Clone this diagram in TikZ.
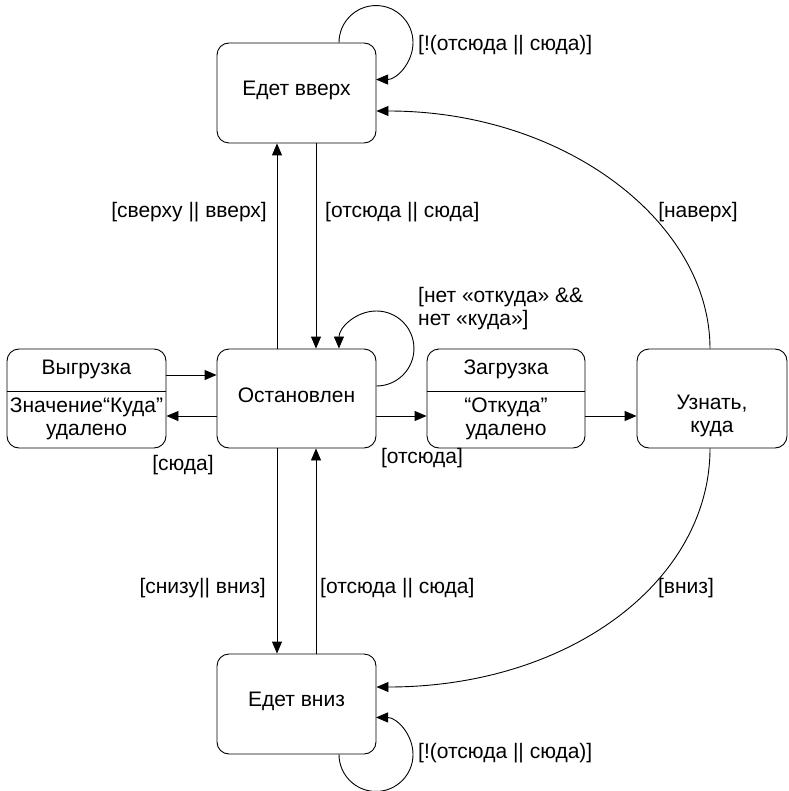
\documentclass[tikz,border=0pt]{standalone}
\usepackage{fontspec}
\setmainfont{Liberation Sans}
\usetikzlibrary{arrows.meta}
\begin{document}
\begin{tikzpicture}[x=1pt,y=-1pt,
  state/.style={draw, rounded corners=12pt, line width=0.9pt, inner sep=0pt, align=center, font=\fontsize{21}{23}\selectfont},
  txt/.style={inner sep=0pt, align=center, font=\fontsize{21}{23}\selectfont},
  lbl/.style={inner sep=0pt, align=left, font=\fontsize{21}{23}\selectfont},
  arr/.style={line width=0.9pt, -{Triangle[length=12pt,width=10pt]}},
  ln/.style={line width=0.9pt}]
\useasboundingbox (0,0) rectangle (788,791);
% states
\node[state, minimum width=159pt, minimum height=100pt] (up) at (296.5,93) {};
\node[txt] (upT) at (296.5,90) {Едет вверх};
\node[state, minimum width=159pt, minimum height=99pt] (stop) at (296.5,398.5) {};
\node[txt] (stopT) at (296.5,395) {Остановлен};
\node[state, minimum width=159pt, minimum height=100pt] (down) at (296.5,704) {};
\node[txt] (downT) at (296.5,701) {Едет вниз};
\node[state, minimum width=159pt, minimum height=99pt] (vyg) at (86.5,398.5) {};
\node[state, minimum width=158pt, minimum height=99pt] (zag) at (506,398.5) {};
\node[state, minimum width=150pt, minimum height=99pt] (uzn) at (712,398.5) {};
\node[txt] (uznT) at (712,416) {Узнать,\\куда};
\draw[ln] (vyg.west |- 0,391) -- (vyg.east |- 0,391);
\draw[ln] (zag.west |- 0,391) -- (zag.east |- 0,391);
\node[txt] (vygT) at (86.5,369) {Выгрузка};
\node[txt] (vygB) at (86.5,419) {Значение“Куда”\\удалено};
\node[txt] (zagT) at (506,369) {Загрузка};
\node[txt] (zagB) at (506,419) {“Откуда”\\удалено};
% vertical connectors
\draw[arr] ([xshift=-19.5pt]stop.north) -- ([xshift=-19.5pt]up.south);
\draw[arr] ([xshift=19.5pt]up.south) -- ([xshift=19.5pt]stop.north);
\draw[arr] ([xshift=-19.5pt]stop.south) -- ([xshift=-19.5pt]down.north);
\draw[arr] ([xshift=19.5pt]down.north) -- ([xshift=19.5pt]stop.south);
% horizontal connectors
\draw[arr] ([yshift=23.5pt]vyg.east) -- ([yshift=23.5pt]stop.west);
\draw[arr] ([yshift=-17.5pt]stop.west) -- ([yshift=-17.5pt]vyg.east);
\draw[arr] ([yshift=-17.5pt]stop.east) -- ([yshift=-17.5pt]zag.west);
\draw[arr] ([yshift=-17.5pt]zag.east) -- ([yshift=-17.5pt]uzn.west);
% big curves
\draw[arr] ([xshift=-2pt]uzn.north) .. controls +(0,-125) and +(190,0) .. ([yshift=-18pt]up.east);
\draw[arr] ([xshift=-2pt]uzn.south) .. controls +(0,132) and +(194,0) .. ([yshift=17pt]down.east);
% self loops
\draw[arr] ([xshift=42.5pt]up.north) arc[start angle=180, end angle=-90, radius=37pt];
\draw[arr] ([yshift=12.5pt]stop.east) arc[start angle=-90, end angle=180, radius=37.5pt];
\draw[arr] ([xshift=42.5pt]down.south) arc[start angle=180, end angle=450, radius=37pt];
% labels
\node[lbl, anchor=west] (l1) at (418,45) {[!(отсюда || сюда)]};
\node[lbl, anchor=east] (l2) at (267,212) {[сверху || вверх]};
\node[lbl, anchor=west] (l3) at (325,212) {[отсюда || сюда]};
\node[lbl] (l4) at (698,212) {[наверх]};
\node[lbl, anchor=west] (l5) at (418,308.5) {[нет «откуда» \&\&\\нет «куда»]};
\node[lbl] (l6) at (183,465) {[сюда]};
\node[lbl] (l7) at (422,458) {[отсюда]};
\node[lbl, anchor=east] (l8) at (266,588) {[снизу|| вниз]};
\node[lbl, anchor=west] (l9) at (320,588) {[отсюда || сюда]};
\node[lbl] (l10) at (686,588) {[вниз]};
\node[lbl, anchor=west] (l11) at (418,753) {[!(отсюда || сюда)]};
\end{tikzpicture}
\end{document}
